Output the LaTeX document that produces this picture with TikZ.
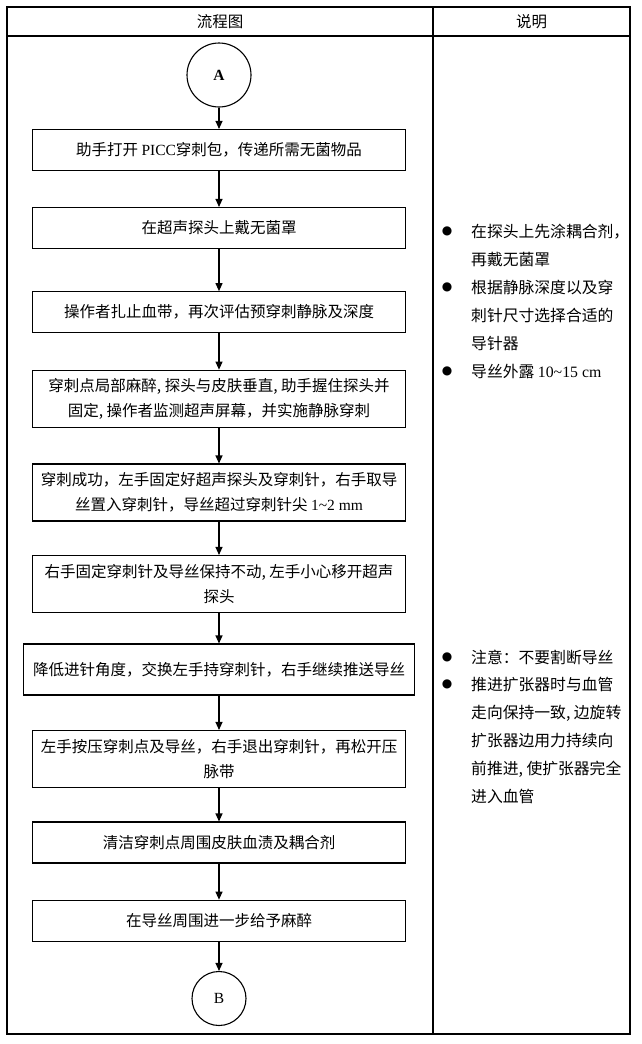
\documentclass[tikz,border=0pt]{standalone}
\usepackage{fontspec}
\setmainfont{Noto Sans CJK SC}
\newfontfamily\latinfont{Liberation Serif}
\newfontfamily\dotfont{DejaVu Sans}
\usetikzlibrary{arrows.meta}

\begin{document}
\begin{tikzpicture}[
    x=1pt, y=-1pt,
    font=\fontsize{15.5}{25}\selectfont,
    stepbox/.style={rectangle, draw, line width=1.1pt, minimum width=373pt, minimum height=41pt, align=center, inner sep=2pt},
    twoline/.style={stepbox, minimum height=57pt},
    joint/.style={circle, draw, line width=1.1pt, minimum size=64pt, inner sep=0pt},
    arrow/.style={-{Triangle[length=8pt,width=7pt]}, line width=1.1pt},
    dot/.style={font=\dotfont\fontsize{12}{12}\selectfont, inner sep=0pt},
    note/.style={anchor=west, align=left, inner sep=0pt, font=\fontsize{15.8}{28}\selectfont}
]
\useasboundingbox (0,0) rectangle (641,1044);

% Table frame
\draw[line width=1.3pt] (7,7) rectangle (630,1034);
\draw[line width=1.1pt] (7,36) -- (630,36);
\draw[line width=1.3pt] (433,7) -- (433,1034);
\node (hflow) at (220,22) {流程图};
\node (hnote) at (531.5,22) {说明};

% Flow column
\node[joint] (A) at (219,75) {{\latinfont\bfseries A}};
\node[stepbox] (s1) at (219,150) {助手打开 {\latinfont PICC}穿刺包，传递所需无菌物品};
\node[stepbox] (s2) at (219,228) {在超声探头上戴无菌罩};
\node[stepbox] (s3) at (219,312.2) {操作者扎止血带，再次评估预穿刺静脉及深度};
\node[twoline] (s4) at (219,398.7) {穿刺点局部麻醉, 探头与皮肤垂直, 助手握住探头并\\固定, 操作者监测超声屏幕，并实施静脉穿刺};
\node[twoline] (s5) at (219,492.5) {穿刺成功，左手固定好超声探头及穿刺针，右手取导\\丝置入穿刺针，导丝超过穿刺针尖 {\latinfont 1\textasciitilde 2 mm}};
\node[twoline] (s6) at (219,584) {右手固定穿刺针及导丝保持不动, 左手小心移开超声\\探头};
\node[stepbox, minimum width=391pt, minimum height=51pt] (s7) at (219,669.5) {降低进针角度，交换左手持穿刺针，右手继续推送导丝};
\node[twoline] (s8) at (219,759) {左手按压穿刺点及导丝，右手退出穿刺针，再松开压\\脉带};
\node[stepbox] (s9) at (219,842.5) {清洁穿刺点周围皮肤血渍及耦合剂};
\node[stepbox] (s10) at (219,920.7) {在导丝周围进一步给予麻醉};
\node[joint, minimum size=54pt] (B) at (219,998.5) {{\latinfont B}};

% Arrows between steps
\draw[arrow] (A) -- (s1);
\draw[arrow] (s1) -- (s2);
\draw[arrow] (s2) -- (s3);
\draw[arrow] (s3) -- (s4);
\draw[arrow] (s4) -- (s5);
\draw[arrow] (s5) -- (s6);
\draw[arrow] (s6) -- (s7);
\draw[arrow] (s7) -- (s8);
\draw[arrow] (s8) -- (s9);
\draw[arrow] (s9) -- (s10);
\draw[arrow] (s10) -- (B);

% Notes column
\node[dot] (d1) at (447,231) {●};
\node[note] (n1) at (471,245) {在探头上先涂耦合剂，\\再戴无菌罩};
\node[dot] (d2) at (447,287) {●};
\node[note] (n2) at (471,315) {根据静脉深度以及穿\\刺针尺寸选择合适的\\导针器};
\node[dot] (d3) at (447,371) {●};
\node[note] (n3) at (471,371) {导丝外露 {\latinfont 10\textasciitilde 15 cm}};

\node[dot] (d4) at (447,657) {●};
\node[note] (n4) at (471,657) {注意：不要割断导丝};
\node[dot] (d5) at (447,684) {●};
\node[note] (n5) at (471,740) {推进扩张器时与血管\\走向保持一致, 边旋转\\扩张器边用力持续向\\前推进, 使扩张器完全\\进入血管};
\end{tikzpicture}
\end{document}
